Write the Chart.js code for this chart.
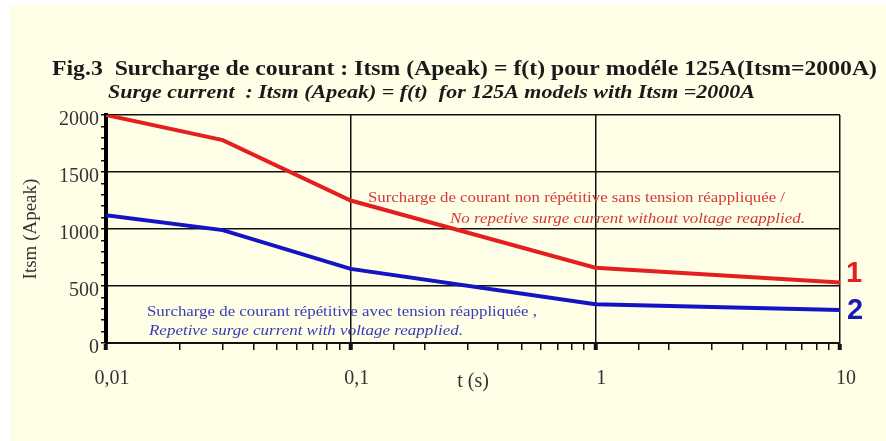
<!DOCTYPE html>
<html>
<head>
<meta charset="utf-8">
<script src="https://cdn.jsdelivr.net/npm/chart.js@4/dist/chart.umd.min.js"></script>
<style>
  html, body { margin: 0; padding: 0; background: #fff; }
  canvas { display: block; }
</style>
</head>
<body>
<canvas id="chart" width="886" height="441"></canvas>
<script>
// values (t in seconds, Itsm in A peak)
const timeValues = [0.01, 0.03, 0.1, 1, 10];
const nonRepetitiveSurge = [2000, 1780, 1250, 660, 530];
const repetitiveSurge = [1120, 990, 650, 340, 290];

const xTickValues = [0.01, 0.1, 1, 10];
const xTickLabels = ["0,01", "0,1", "1", "10"];
const yTickValues = [0, 500, 1000, 1500, 2000];
const yTickLabels = ["0", "500", "1000", "1500", "2000"];

const titleLines = [
   "Fig.3  Surcharge de courant : Itsm (Apeak) = f(t) pour modéle 125A(Itsm=2000A)",
   "Surge current  : Itsm (Apeak) = f(t)  for 125A models with Itsm =2000A",
];
const redNote = [
   "Surcharge de courant non répétitive sans tension réappliquée /",
   "No repetive surge current without voltage reapplied.",
];
const blueNote = [
   "Surcharge de courant répétitive avec tension réappliquée ,",
   "Repetive surge current with voltage reapplied.",
];
const curveNumbers = ["1", "2"];

const SERIF = "'Liberation Serif', 'Times New Roman', serif";
const RED = "#e3201f";
const BLUE = "#1414c4";

function isDecade(v) {
   const l = Math.log10(v);
   return Math.abs(l - Math.round(l)) < 1e-6;
}

function findLabel(values, labels, v) {
   const i = values.findIndex((t) => Math.abs(t - v) <= Math.abs(t) * 1e-6 + 1e-9);
   return i >= 0 ? labels[i] : "";
}

// draws a text stretched to the width it has in the figure
function fitText(ctx, text, x, y, width) {
   const w = ctx.measureText(text).width;
   ctx.save();
   ctx.translate(x, y);
   ctx.scale(width / w, 1);
   ctx.fillText(text, 0, 0);
   ctx.restore();
}

const figurePlugin = {
   id: "figure",
   beforeDraw(chart) {
      const ctx = chart.ctx;
      ctx.save();
      ctx.fillStyle = "#ffffff";
      ctx.fillRect(0, 0, chart.width, chart.height);
      ctx.fillStyle = "#ffffe8";
      ctx.fillRect(10, 5, chart.width - 10, chart.height - 5);
      ctx.restore();
   },
   beforeDatasetsDraw(chart) {
      const ctx = chart.ctx;
      ctx.save();
      ctx.textAlign = "left";
      ctx.textBaseline = "middle";

      ctx.fillStyle = "#1a1a1a";
      ctx.font = "bold 20px " + SERIF;
      fitText(ctx, titleLines[0], 52, 70, 825);
      ctx.font = "italic bold 19px " + SERIF;
      fitText(ctx, titleLines[1], 108, 93, 647);

      ctx.fillStyle = "#d23a3a";
      ctx.font = "15px " + SERIF;
      fitText(ctx, redNote[0], 368, 198, 417);
      ctx.font = "italic 15px " + SERIF;
      fitText(ctx, redNote[1], 450, 219, 355);

      ctx.fillStyle = "#3a3ab4";
      ctx.font = "15px " + SERIF;
      fitText(ctx, blueNote[0], 147, 312, 390);
      ctx.font = "italic 15px " + SERIF;
      fitText(ctx, blueNote[1], 149, 331, 314);
      ctx.restore();
   },
   afterDatasetsDraw(chart) {
      const ctx = chart.ctx;
      const x = chart.scales.x;
      const y = chart.scales.y;
      const last = timeValues.length - 1;
      ctx.save();
      ctx.textAlign = "left";
      ctx.textBaseline = "middle";
      ctx.font = "bold 29px 'Liberation Sans', Arial, sans-serif";
      ctx.fillStyle = RED;
      ctx.fillText(curveNumbers[0], x.getPixelForValue(timeValues[last]) + 6,
         y.getPixelForValue(nonRepetitiveSurge[last]) - 9);
      ctx.fillStyle = "#1a1ab0";
      ctx.fillText(curveNumbers[1], x.getPixelForValue(timeValues[last]) + 7,
         y.getPixelForValue(repetitiveSurge[last]) + 1);
      ctx.restore();
   },
};

const toPoints = (ys) => ys.map((v, i) => ({ x: timeValues[i], y: v }));

new Chart(document.getElementById("chart"), {
   type: "line",
   data: {
      datasets: [
         {
            label: "1",
            data: toPoints(nonRepetitiveSurge),
            borderColor: RED,
            borderWidth: 4,
         },
         {
            label: "2",
            data: toPoints(repetitiveSurge),
            borderColor: BLUE,
            borderWidth: 4,
         },
      ],
   },
   options: {
      responsive: false,
      animation: false,
      layout: { padding: { top: 115, right: 46, left: 0, bottom: 0 } },
      elements: { point: { radius: 0 }, line: { tension: 0 } },
      plugins: { legend: { display: false }, tooltip: { enabled: false } },
      scales: {
         x: {
            type: "logarithmic",
            min: 0.01,
            max: 10,
            afterFit(scale) {
               scale.height = 98;
            },
            border: { display: true, color: "#111", width: 2 },
            grid: {
               color: (c) => (isDecade(c.tick.value) ? "#111" : "rgba(0,0,0,0)"),
               lineWidth: 1.5,
               tickColor: "#111",
               tickWidth: (c) => (isDecade(c.tick.value) ? 4 : 1.5),
               tickLength: 7,
            },
            ticks: {
               autoSkip: false,
               maxRotation: 0,
               labelOffset: 6,
               padding: 17,
               color: "#333",
               font: { family: SERIF, size: 20 },
               callback: (v) => findLabel(xTickValues, xTickLabels, v),
            },
            title: {
               display: true,
               text: "t (s)",
               color: "#333",
               font: { family: SERIF, size: 20 },
               padding: { top: 0, bottom: 47 },
            },
         },
         y: {
            min: 0,
            max: 2000,
            afterFit(scale) {
               scale.width = 106;
            },
            border: { display: true, color: "#000", width: 4 },
            grid: {
               color: (c) => (c.tick.value % 500 === 0 ? "#111" : "rgba(0,0,0,0)"),
               lineWidth: 1.5,
               tickColor: "#111",
               tickWidth: 1.5,
               tickLength: 5,
            },
            ticks: {
               stepSize: 100,
               autoSkip: false,
               labelOffset: 5,
               padding: 2,
               color: "#333",
               font: { family: SERIF, size: 20 },
               callback: (v) => findLabel(yTickValues, yTickLabels, v),
            },
            title: {
               display: true,
               text: "Itsm (Apeak)",
               color: "#333",
               font: { family: SERIF, size: 19 },
               padding: { top: 20, bottom: 0 },
            },
         },
      },
   },
   plugins: [figurePlugin],
});
</script>
</body>
</html>
